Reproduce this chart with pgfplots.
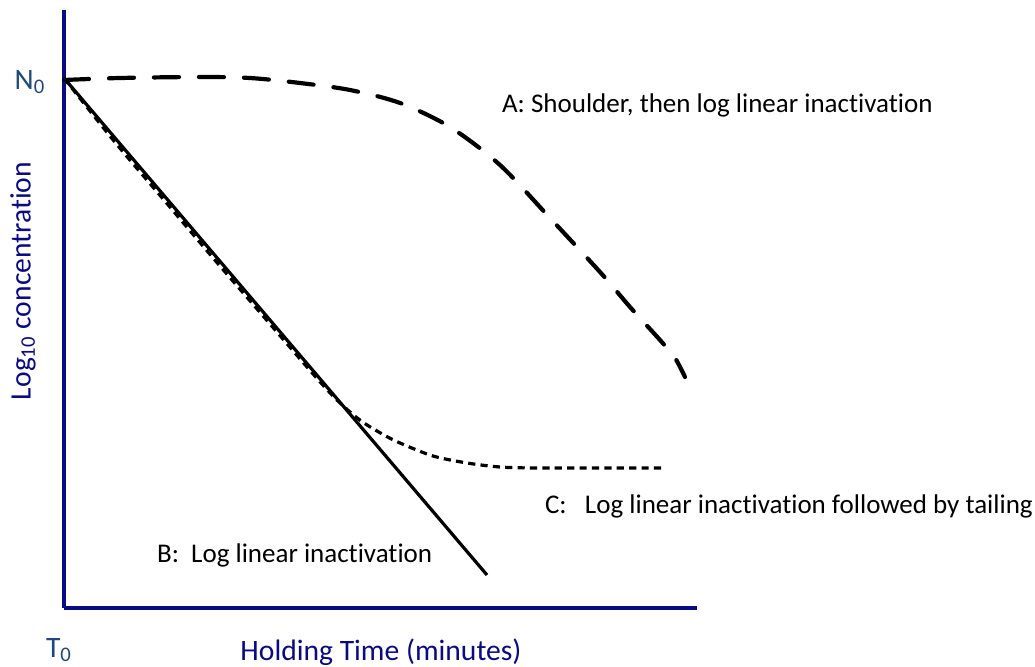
\documentclass[border=0pt]{standalone}
\usepackage{fontspec}
\setmainfont[Ligatures={NoCommon,NoRare,NoDiscretionary}]{Carlito}
\usepackage{pgfplots}
\pgfplotsset{compat=1.18}
\definecolor{axnavy}{RGB}{10,10,135}
\definecolor{lblblue}{RGB}{31,73,125}
\begin{document}
\begin{tikzpicture}
\path[use as bounding box] (-32pt,-29pt) rectangle (485.5pt,304pt);
\begin{axis}[
  at={(0,0)}, anchor=south west,
  scale only axis, width=316.5pt, height=299pt,
  xmin=0, xmax=633, ymin=0, ymax=598,
  axis lines=left,
  axis line style={-, draw=axnavy, line width=1.7pt},
  xtick=\empty, ytick=\empty,
  clip=false,
]
% C: log linear followed by tailing
\addplot[black, line width=1.6pt, smooth, dash pattern=on 3.6pt off 2.6pt] coordinates {
  (0,530) (50,467) (100,408) (150,349) (200,291) (250,233) (270,211) (286,196) (300,185) (320,173) (336,165) (369,152) (403,145) (436,141) (469,140) (520,140) (601,140)};
% B: log linear
\addplot[black, line width=1.6pt] coordinates {(0,530) (423,33)};
% A: shoulder
\addplot[black, line width=2.1pt, smooth, line cap=round, dash pattern=on 12.5pt off 10pt] coordinates {
  (0,528) (56,530) (136,531) (186,530) (236,525) (286,518) (336,505) (386,481) (436,443) (486,390) (536,336) (566,301) (596,268) (611,250) (621,231)};
\node[anchor=base west, font=\fontsize{13.5pt}{16pt}\selectfont] at (axis cs:431,495) {A: Shoulder, then log linear inactivation};
\node[anchor=base west, font=\fontsize{13.5pt}{16pt}\selectfont] at (axis cs:86,46) {B:\ \ Log linear inactivation};
\node[anchor=base west, font=\fontsize{13.5pt}{16pt}\selectfont] at (axis cs:474,95) {C:\ \ \ Log linear inactivation followed by tailing};
\node[text=lblblue, font=\fontsize{14.8pt}{17pt}\selectfont] at (axis cs:-34,526) {N\textsubscript{0}};
\node[text=lblblue, font=\fontsize{14.8pt}{17pt}\selectfont] at (axis cs:-5,-42) {T\textsubscript{0}};
\node[text=axnavy, font=\fontsize{14.8pt}{17pt}\selectfont] at (axis cs:317,-44) {Holding Time (minutes)};
\node[text=axnavy, rotate=90, font=\fontsize{14.8pt}{17pt}\selectfont] at (axis cs:-41,327) {Log\textsubscript{10} concentration};
\end{axis}
\end{tikzpicture}
\end{document}
